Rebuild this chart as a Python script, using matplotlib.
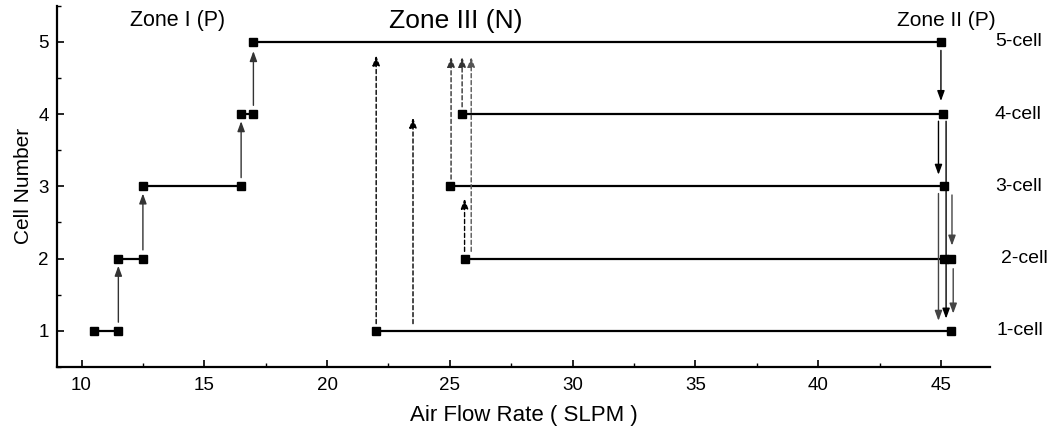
import matplotlib
matplotlib.use("Agg")
import matplotlib.pyplot as plt
from matplotlib.ticker import MultipleLocator

plt.rcParams['font.family'] = ['Liberation Sans', 'DejaVu Sans']

# Horizontal step segments (start x, end x, cell level)
seg_x0 = [10.5, 11.5, 12.5, 16.5, 17.0, 25.5, 25.0, 25.6, 22.0]
seg_x1 = [11.5, 12.5, 16.5, 17.0, 45.0, 45.07, 45.14, 45.13, 45.4]
seg_y = [1, 2, 3, 4, 5, 4, 3, 2, 1]

# Extra markers
extra_x = [45.4]
extra_y = [2]

# Solid arrows
up_x = [11.5, 12.5, 16.5, 17.0]
up_y0 = [1.12, 2.12, 3.12, 4.12]
up_y1 = [1.9, 2.9, 3.9, 4.87]

down_x = [45.0, 44.9, 45.21, 44.9, 45.45, 45.5]
down_y0 = [4.88, 3.9, 3.9, 2.9, 2.88, 1.86]
down_y1 = [4.18, 3.16, 1.17, 1.14, 2.18, 1.24]
down_col = ['black', 'black', 'black', '#444444', '#444444', '#444444']

# Dashed arrows
dash_x = [22.0, 23.5, 25.05, 25.5, 25.87, 25.6]
dash_y0 = [1.1, 1.1, 3.1, 4.1, 2.1, 2.1]
dash_y1 = [4.81, 3.95, 4.79, 4.79, 4.79, 2.83]
dash_col = ['black', 'black', '#333333', '#333333', '#555555', 'black']

cell_labels = ['5-cell', '4-cell', '3-cell', '2-cell', '1-cell']
cell_lab_x = [47.2, 47.2, 47.2, 47.45, 47.25]
cell_lab_y = [5, 4, 3, 2, 1]

zone_texts = ['Zone I (P)', 'Zone III (N)', 'Zone II (P)']
zone_x = [13.9, 25.23, 45.2]
zone_y = [5.3, 5.28, 5.3]
zone_size = [15.5, 19, 15]

fig = plt.figure(figsize=(10.51, 4.30), dpi=100)
ax = fig.add_axes([0.0542, 0.1465, 0.8878, 0.8405])

for x0, x1, y in zip(seg_x0, seg_x1, seg_y):
    ax.plot([x0, x1], [y, y], color='black', lw=1.6, marker='s', ms=5.5,
            markerfacecolor='black', markeredgecolor='black', zorder=3)
ax.plot(extra_x, extra_y, ls='none', marker='s', ms=5.5, color='black', zorder=3)

def arrow(x, y0, y1, col, ls='-'):
    ax.annotate('', xy=(x, y1), xytext=(x, y0),
                arrowprops=dict(arrowstyle='-|>,head_length=0.6,head_width=0.22',
                                color=col, lw=1.0, linestyle=ls,
                                shrinkA=0, shrinkB=0, mutation_scale=10))

for x, a, b in zip(up_x, up_y0, up_y1):
    arrow(x, a, b, '#333333')
for x, a, b, c in zip(down_x, down_y0, down_y1, down_col):
    arrow(x, a, b, c)
for x, a, b, c in zip(dash_x, dash_y0, dash_y1, dash_col):
    arrow(x, a, b, c, ls=(0, (3, 2)))

for t, x, y in zip(cell_labels, cell_lab_x, cell_lab_y):
    ax.text(x, y, t, fontsize=14, ha='left', va='center', clip_on=False)
for t, x, y, s in zip(zone_texts, zone_x, zone_y, zone_size):
    ax.text(x, y, t, fontsize=s, ha='center', va='center', clip_on=False)

ax.set_xlim(9, 47)
ax.set_ylim(0.5, 5.5)
ax.set_xticks([10, 15, 20, 25, 30, 35, 40, 45])
ax.set_yticks([1, 2, 3, 4, 5])
ax.xaxis.set_minor_locator(MultipleLocator(2.5))
ax.yaxis.set_minor_locator(MultipleLocator(0.5))
ax.tick_params(which='major', direction='in', length=5, width=1.2, labelsize=13.5)
ax.tick_params(which='minor', direction='in', length=3, width=1.0)
ax.tick_params(axis='x', pad=7)
ax.tick_params(axis='y', pad=6)
for s in ['top', 'right']:
    ax.spines[s].set_visible(False)
for s in ['left', 'bottom']:
    ax.spines[s].set_linewidth(1.6)

ax.set_xlabel('Air Flow Rate ( SLPM )', fontsize=16, labelpad=8)
ax.set_ylabel('Cell Number', fontsize=15, labelpad=4)

fig.savefig('out.png', dpi=100)
